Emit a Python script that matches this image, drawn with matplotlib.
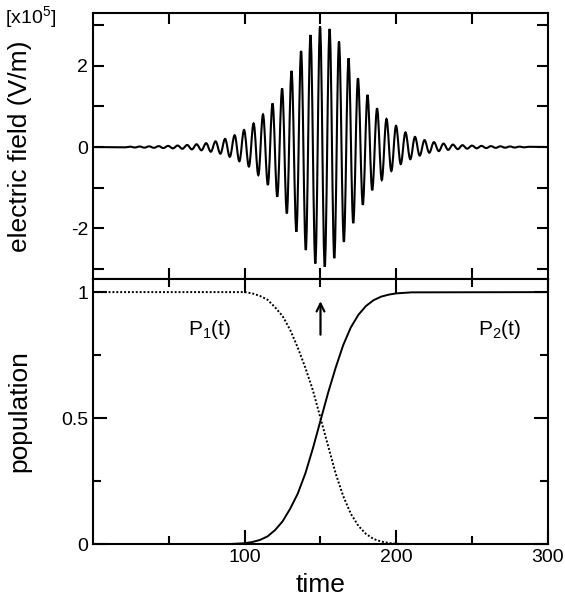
import matplotlib
matplotlib.use('Agg')
import matplotlib.pyplot as plt
from matplotlib.path import Path
from matplotlib.patches import PathPatch
import numpy as np

plt.rcParams['font.family'] = ['Liberation Sans', 'DejaVu Sans']
plt.rcParams['mathtext.fontset'] = 'custom'
plt.rcParams['mathtext.rm'] = 'Liberation Sans'
plt.rcParams['mathtext.it'] = 'Liberation Sans:italic'

# electric field: times of the successive extrema of the carrier, and their values [x10^5 V/m]
field_t = [0.0,
           21.4, 24.5, 27.6, 30.8, 33.9, 37.0, 40.2, 43.3, 46.4, 49.5,
           52.7, 55.8, 58.9, 62.1, 65.2, 68.3, 71.5, 74.6, 77.7, 80.8,
           84.0, 87.1, 90.2, 93.4, 96.5, 99.6, 102.8, 105.9, 109.0, 112.1,
           115.3, 118.4, 121.5, 124.7, 127.8, 130.9, 134.1, 137.2, 140.3, 143.4,
           146.6, 149.7, 152.8, 156.0, 159.1, 162.2, 165.4, 168.5, 171.6, 174.7,
           177.9, 181.0, 184.1, 187.3, 190.4, 193.5, 196.7, 199.8, 202.9, 206.0,
           209.2, 212.3, 215.4, 218.6, 221.7, 224.8, 228.0, 231.1, 234.2, 237.3,
           240.5, 243.6, 246.7, 249.9, 253.0, 256.1, 259.3, 262.4, 265.5, 268.6,
           271.8, 274.9, 278.0, 281.2, 284.3, 287.4,
           300.0]
field_v = [0.0,
           -0.007, 0.009, -0.011, 0.013, -0.015, 0.017, -0.019, 0.022, -0.025, 0.028,
           -0.032, 0.037, -0.043, 0.05, -0.058, 0.068, -0.08, 0.095, -0.115, 0.14,
           -0.165, 0.20, -0.24, 0.29, -0.35, 0.42, -0.48, 0.58, -0.69, 0.80,
           -0.93, 1.07, -1.22, 1.44, -1.63, 1.87, -2.08, 2.36, -2.53, 2.75,
           -2.86, 2.96, -2.94, 2.90, -2.73, 2.59, -2.33, 2.18, -1.87, 1.69,
           -1.42, 1.28, -1.06, 0.95, -0.81, 0.69, -0.59, 0.52, -0.42, 0.36,
           -0.30, 0.25, -0.21, 0.17, -0.14, 0.12, -0.10, 0.085, -0.07, 0.06,
           -0.052, 0.045, -0.04, 0.035, -0.031, 0.028, -0.025, 0.022, -0.02, 0.018,
           -0.016, 0.014, -0.012, 0.01, -0.008, 0.006,
           0.0]

# populations
pop_t = [0, 90, 100, 105, 110, 115, 120, 125, 130, 135, 140, 145, 150,
         155, 160, 165, 170, 175, 180, 185, 190, 195, 200, 210, 300]
p1 = [1.0, 1.0, 1.0, 0.995, 0.985, 0.97, 0.94, 0.905, 0.85, 0.78, 0.70, 0.61, 0.50,
      0.39, 0.28, 0.19, 0.12, 0.072, 0.04, 0.02, 0.01, 0.004, 0.001, 0.0, 0.0]
p2 = [0.0, 0.0, 0.003, 0.008, 0.016, 0.03, 0.055, 0.09, 0.14, 0.20, 0.28, 0.38, 0.49,
      0.60, 0.70, 0.79, 0.86, 0.91, 0.945, 0.968, 0.982, 0.99, 0.995, 0.999, 1.0]

fig = plt.figure(figsize=(5.65, 6.03), dpi=100)
ax1 = fig.add_axes([0.1646, 0.5373, 0.8053, 0.4411])
ax2 = fig.add_axes([0.1646, 0.0978, 0.8053, 0.4395])

# carrier drawn as bezier arcs between the extrema (flat tangent at each extremum)
verts = [(field_t[0], field_v[0])]
codes = [Path.MOVETO]
for i in range(len(field_t) - 1):
    t0, v0 = field_t[i], field_v[i]
    t1, v1 = field_t[i + 1], field_v[i + 1]
    h = t1 - t0
    verts += [(t0 + 0.36 * h, v0), (t1 - 0.36 * h, v1), (t1, v1)]
    codes += [Path.CURVE4] * 3
ax1.add_patch(PathPatch(Path(verts, codes), fill=False, edgecolor='black', lw=1.5))

ax1.set_xlim(0, 300)
ax1.set_ylim(-3.24, 3.29)
ax1.set_yticks([-2, 0, 2])
ax1.set_yticklabels(['-2', '0', '2'])
ax1.set_yticks([-3, -1, 1, 3], minor=True)
ax1.set_xticks([50, 100, 150, 200, 250])
ax1.set_xticklabels([])
ax1.tick_params(which='both', direction='in', top=True, right=True, length=8, width=1.5,
                labelsize=14)
ax1.set_ylabel('electric field (V/m)', fontsize=19)
ax1.yaxis.set_label_coords(-0.135, 0.5)
fig.text(0.008, 0.993, r'[x10$^5$]', fontsize=14, va='top', ha='left')

ax2.plot(pop_t, p1, color='black', lw=1.4, linestyle=(0, (1, 1)))
ax2.plot(pop_t, p2, color='black', lw=1.4)
ax2.set_xlim(0, 300)
ax2.set_ylim(0, 1.052)
ax2.set_xticks([100, 200, 300])
ax2.set_xticks([50, 150, 250], minor=True)
ax2.set_yticks([0, 0.5, 1])
ax2.set_yticklabels(['0', '0.5', '1'])
ax2.set_yticks([0.25, 0.75], minor=True)
ax2.tick_params(which='major', direction='in', top=True, right=True, length=10, width=1.5,
                labelsize=14)
ax2.tick_params(which='minor', direction='in', top=True, right=True, length=6, width=1.5)
ax2.set_ylabel('population', fontsize=19)
ax2.yaxis.set_label_coords(-0.135, 0.5)
ax2.set_xlabel('time', fontsize=19)
ax2.xaxis.set_label_coords(0.5, -0.11)

ax2.text(77, 0.85, r'P$_\mathrm{1}$(t)', fontsize=15, ha='center', va='center')
ax2.text(268, 0.85, r'P$_\mathrm{2}$(t)', fontsize=15, ha='center', va='center')
ax2.annotate('', xy=(150, 0.975), xytext=(150, 0.82),
             arrowprops=dict(arrowstyle='->', lw=1.6, color='black', mutation_scale=14))

for ax in [ax1, ax2]:
    for s in ax.spines.values():
        s.set_linewidth(1.5)

plt.savefig('out.png', dpi=100)
